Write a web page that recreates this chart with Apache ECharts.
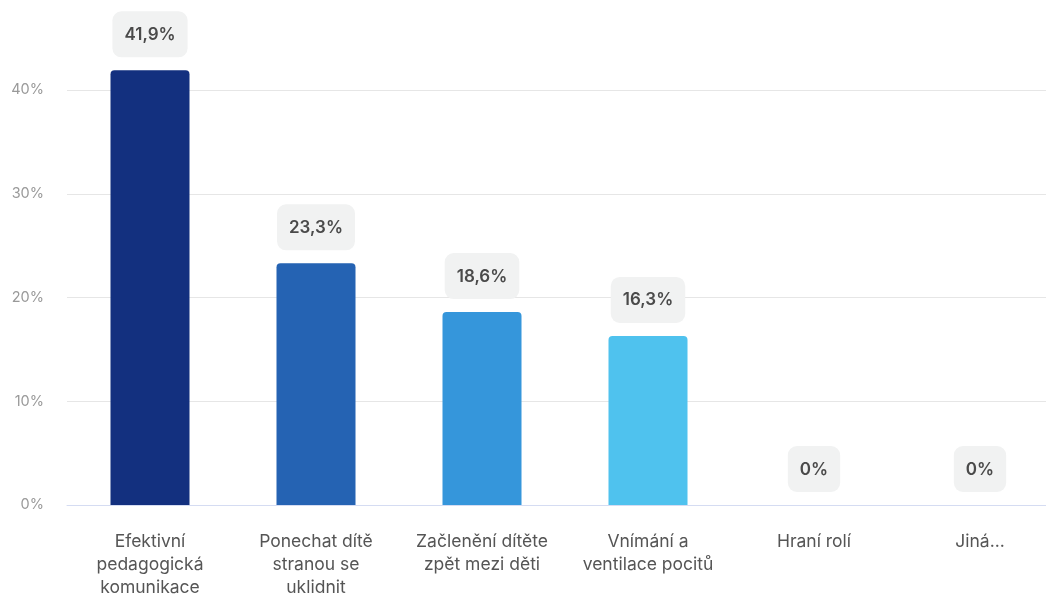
<!DOCTYPE html>
<html><head><meta charset="utf-8">
<script src="https://cdn.jsdelivr.net/npm/echarts@6/dist/echarts.min.js"></script>
<style>html,body{margin:0;padding:0;background:#fff;overflow:hidden;width:1046px;height:596px;position:relative}#c{position:absolute;left:0;top:-20px;width:1090px;height:620px}</style>
</head><body><div id="c"></div>
<script>
var categories = ["Efektivní\npedagogická\nkomunikace", "Ponechat dítě\nstranou se\nuklidnit", "Začlenění dítěte\nzpět mezi děti", "Vnímání a\nventilace pocitů", "Hraní rolí", "Jiná..."];
var values = [41.9, 23.3, 18.6, 16.3, 0, 0];
var colors = ["#13307F", "#2563B3", "#3596DB", "#4FC2EE", "#4FC2EE", "#4FC2EE"];
var yTicks = [0, 10, 20, 30, 40, 50];

var chart = echarts.init(document.getElementById('c'));
chart.setOption({
  animation: false,
  textStyle: {fontFamily: 'Inter'},
  grid: {left: 67, width: 996, top: 6.25, height: 518.75, containLabel: false},
  xAxis: {
    type: 'category', data: categories,
    axisTick: {show: false},
    axisLine: {lineStyle: {color: '#D5DCF2', width: 1}},
    axisLabel: {color: '#555', fontSize: 17.5, lineHeight: 23, margin: 25, interval: 0, fontFamily: 'Inter'}
  },
  yAxis: {
    type: 'value', min: yTicks[0], max: yTicks[yTicks.length - 1], interval: 10,
    axisLine: {show: false}, axisTick: {show: false},
    splitLine: {lineStyle: {color: '#E6E6E6'}},
    axisLabel: {color: '#999', fontSize: 14.5, margin: 23, formatter: function (v) { return v === 50 ? '' : v + '%'; }, fontFamily: 'Inter'}
  },
  series: [{
    type: 'bar', barWidth: 79,
    data: values.map(function (v, i) { return {value: v, itemStyle: {color: colors[i]}}; }),
    itemStyle: {borderRadius: [4, 4, 0, 0]},
    label: {
      show: true, position: 'top', distance: 13,
      formatter: function (p) { return String(p.value).replace('.', ',') + '%'; },
      color: '#4A4A4A', fontSize: 17, fontWeight: 600, fontFamily: 'Inter',
      backgroundColor: '#F1F2F2', borderRadius: 9, padding: [15, 12, 14, 12]
    }
  }]
});
</script></body></html>
